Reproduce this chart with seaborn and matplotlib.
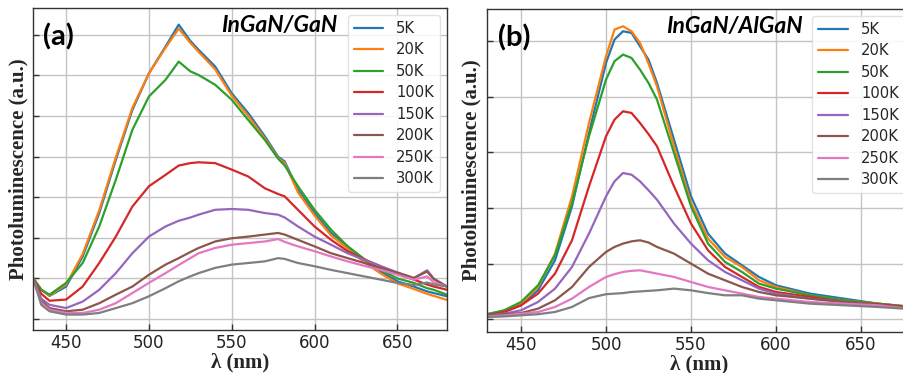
import numpy as np
import pandas as pd
import matplotlib
matplotlib.use("Agg")
import matplotlib.pyplot as plt
import seaborn as sns

temps = ["5K", "20K", "50K", "100K", "150K", "200K", "250K", "300K"]

# Panel (a) InGaN/GaN
wl_a = [430, 435, 440, 450, 460, 470, 480, 490, 500, 510, 518, 525, 530, 540, 550,
        560, 570, 578, 582, 590, 600, 610, 620, 630, 640, 650, 660, 668, 672, 680]
a_5K = [1.01, 0.72, 0.57, 0.80, 1.54, 2.61, 3.92, 5.15, 6.05, 6.71, 7.25, 6.85, 6.63, 6.22, 5.56,
        5.07, 4.50, 4.00, 3.88, 3.18, 2.61, 2.12, 1.79, 1.46, 1.17, 0.93, 0.80, 0.68, 0.64, 0.56]
a_20K = [1.01, 0.72, 0.58, 0.85, 1.60, 2.68, 3.98, 5.20, 6.05, 6.68, 7.15, 6.80, 6.58, 6.15, 5.50,
         5.00, 4.45, 3.97, 3.84, 3.12, 2.55, 2.06, 1.73, 1.40, 1.12, 0.88, 0.74, 0.62, 0.57, 0.47]
a_50K = [1.01, 0.72, 0.60, 0.89, 1.38, 2.28, 3.43, 4.66, 5.48, 5.89, 6.34, 6.10, 6.01, 5.77, 5.40,
         4.90, 4.41, 3.95, 3.78, 3.27, 2.69, 2.20, 1.79, 1.48, 1.21, 1.00, 0.89, 0.76, 0.72, 0.60]
a_100K = [1.01, 0.62, 0.45, 0.48, 0.80, 1.38, 2.03, 2.77, 3.27, 3.55, 3.78, 3.84, 3.86, 3.84, 3.68,
          3.51, 3.22, 3.08, 3.02, 2.69, 2.28, 1.95, 1.67, 1.47, 1.30, 1.12, 0.97, 0.85, 0.80, 0.72]
a_150K = [1.01, 0.50, 0.35, 0.27, 0.43, 0.72, 1.13, 1.62, 2.03, 2.28, 2.42, 2.50, 2.57, 2.69, 2.71,
          2.69, 2.61, 2.57, 2.50, 2.28, 2.03, 1.83, 1.62, 1.46, 1.30, 1.15, 1.01, 1.20, 1.00, 0.80]
a_200K = [1.01, 0.45, 0.27, 0.19, 0.23, 0.39, 0.60, 0.80, 1.09, 1.34, 1.50, 1.65, 1.75, 1.91, 1.99,
          2.03, 2.08, 2.12, 2.08, 1.95, 1.79, 1.62, 1.50, 1.38, 1.26, 1.14, 1.01, 1.17, 0.98, 0.80]
a_250K = [1.01, 0.40, 0.23, 0.15, 0.15, 0.23, 0.39, 0.64, 0.89, 1.13, 1.33, 1.50, 1.62, 1.75, 1.83,
          1.87, 1.91, 1.97, 1.90, 1.79, 1.67, 1.54, 1.42, 1.31, 1.21, 1.09, 0.97, 1.05, 0.90, 0.80]
a_300K = [1.01, 0.35, 0.19, 0.11, 0.11, 0.15, 0.27, 0.39, 0.56, 0.76, 0.93, 1.05, 1.13, 1.26, 1.34,
          1.38, 1.42, 1.50, 1.48, 1.38, 1.30, 1.21, 1.13, 1.05, 0.97, 0.89, 0.84, 0.90, 0.85, 0.80]

# Panel (b) InGaN/AlGaN
wl_b = [430, 440, 450, 460, 470, 480, 490, 500, 505, 510, 515, 520, 525, 530, 540,
        550, 560, 570, 580, 590, 600, 620, 640, 660, 680]
b_5K = [0.09, 0.13, 0.25, 0.52, 1.06, 2.03, 3.35, 4.61, 5.03, 5.18, 5.15, 4.91, 4.67, 4.25, 3.23,
        2.21, 1.54, 1.18, 0.97, 0.76, 0.61, 0.46, 0.37, 0.28, 0.22]
b_20K = [0.09, 0.15, 0.28, 0.58, 1.18, 2.21, 3.53, 4.73, 5.21, 5.27, 5.18, 4.97, 4.60, 4.19, 3.11,
         2.09, 1.45, 1.12, 0.94, 0.70, 0.58, 0.43, 0.34, 0.28, 0.22]
b_50K = [0.09, 0.16, 0.31, 0.61, 1.15, 2.09, 3.29, 4.31, 4.64, 4.76, 4.70, 4.49, 4.25, 3.95, 2.99,
         2.03, 1.36, 1.03, 0.85, 0.64, 0.55, 0.43, 0.34, 0.28, 0.22]
b_100K = [0.07, 0.13, 0.25, 0.46, 0.82, 1.42, 2.39, 3.29, 3.59, 3.74, 3.71, 3.53, 3.33, 3.11, 2.39,
          1.72, 1.24, 0.94, 0.76, 0.58, 0.49, 0.40, 0.31, 0.27, 0.21]
b_150K = [0.07, 0.10, 0.16, 0.31, 0.55, 0.94, 1.54, 2.21, 2.48, 2.63, 2.60, 2.48, 2.32, 2.15, 1.72,
          1.36, 1.06, 0.85, 0.70, 0.55, 0.46, 0.37, 0.31, 0.25, 0.20]
b_200K = [0.07, 0.09, 0.11, 0.19, 0.34, 0.58, 0.94, 1.21, 1.30, 1.36, 1.40, 1.42, 1.38, 1.30, 1.18,
          1.00, 0.82, 0.70, 0.58, 0.49, 0.43, 0.37, 0.31, 0.25, 0.20]
b_250K = [0.05, 0.07, 0.10, 0.13, 0.22, 0.37, 0.58, 0.76, 0.81, 0.85, 0.87, 0.88, 0.85, 0.82, 0.76,
          0.67, 0.58, 0.52, 0.46, 0.40, 0.37, 0.31, 0.28, 0.25, 0.18]
b_300K = [0.04, 0.05, 0.07, 0.09, 0.13, 0.22, 0.38, 0.45, 0.46, 0.47, 0.49, 0.50, 0.51, 0.52, 0.55,
          0.52, 0.47, 0.43, 0.43, 0.37, 0.34, 0.28, 0.25, 0.22, 0.18]

series_a = [a_5K, a_20K, a_50K, a_100K, a_150K, a_200K, a_250K, a_300K]
series_b = [b_5K, b_20K, b_50K, b_100K, b_150K, b_200K, b_250K, b_300K]


def long_df(wl, series):
    rows = []
    for t, vals in zip(temps, series):
        for w, v in zip(wl, vals):
            rows.append((w, v, t))
    return pd.DataFrame(rows, columns=["wl", "PL", "T"])


sns.set_theme(style="whitegrid")
plt.rcParams.update({
    "axes.edgecolor": "#333333",
    "axes.linewidth": 1.0,
    "grid.color": "#c4c4c4",
    "grid.linewidth": 1.0,
    "font.family": ["DejaVu Sans"],
})

fig = plt.figure(figsize=(9.04, 3.73), dpi=100)
ax_a = fig.add_axes([33 / 904, 1 - 330 / 373, 414 / 904, 322 / 373])
ax_b = fig.add_axes([487 / 904, 1 - 332 / 373, 425 / 904, 323 / 373])

palette = sns.color_palette("tab10", 8)

panels = [
    (ax_a, wl_a, series_a, (-0.27, 7.66), range(0, 8), "(a)", "InGaN/GaN", 0.734, 0.024),
    (ax_b, wl_b, series_b, (-0.23, 5.58), range(0, 6), "(b)", "InGaN/AlGaN", 0.744, 0.026),
]

for ax, wl, series, ylim, yt, tag, title, tx, lx in panels:
    df = long_df(wl, series)
    sns.lineplot(data=df, x="wl", y="PL", hue="T", hue_order=temps, palette=palette,
                 linewidth=1.6, sort=False, ax=ax, legend=True)
    ax.set_xlim(430, 680)
    ax.set_ylim(*ylim)
    ax.set_xticks([450, 500, 550, 600, 650])
    ax.set_yticks(list(yt))
    ax.set_yticklabels([])
    ax.tick_params(axis="both", direction="in", length=4, width=1, colors="#333333",
                   labelsize=12, labelcolor="#222222", pad=3, left=True, bottom=True)
    ax.set_xlabel("λ (nm)", family="Liberation Serif", fontweight="bold", fontsize=15, labelpad=0)
    ax.set_ylabel("Photoluminescence (a.u.)", family="Liberation Serif", fontweight="bold",
                  fontsize=15)
    ax.yaxis.set_label_coords(-0.012, 0.5)
    ax.grid(True)
    leg = ax.legend(loc="upper right", bbox_to_anchor=(0.983, 0.978), borderaxespad=0,
                    fontsize=10.6, labelspacing=0.44, handlelength=2.0, handletextpad=0.9,
                    frameon=True, framealpha=0.85, edgecolor="#dddddd", fancybox=True,
                    borderpad=0.4)
    ax.text(lx, 0.91, tag, transform=ax.transAxes, ha="left", va="center",
            fontsize=21, fontweight="bold", family=["Lato", "DejaVu Sans"], color="black")
    ax.text(tx, 0.947, title, transform=ax.transAxes, ha="right", va="center",
            fontsize=16.5, fontweight="bold", fontstyle="italic",
            family=["Lato", "DejaVu Sans"], color="black")

fig.savefig("out.png", dpi=100)
